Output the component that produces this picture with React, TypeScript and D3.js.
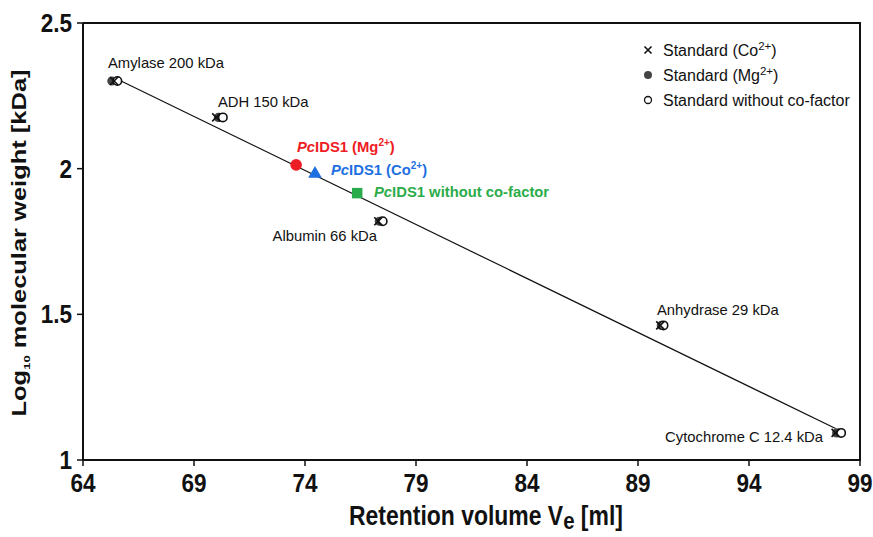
import React from "react";
import * as d3 from "d3";

const W = 873;
const H = 537;

const standards = ["Amylase 200 kDa", "ADH 150 kDa", "Albumin 66 kDa", "Anhydrase 29 kDa", "Cytochrome C 12.4 kDa"];
const logMW = [2.301, 2.176, 1.8195, 1.462, 1.093];
const veCo = [65.4, 70.0, 77.3, 90.0, 97.9];
const veMg = [65.3, 70.1, 77.35, 90.05, 97.95];
const veNone = [65.55, 70.3, 77.5, 90.15, 98.15];

const sampleNames = ["Mg", "Co", "none"];
const sampleVe = [73.6, 74.45, 76.35];
const sampleLog = [2.013, 1.982, 1.916];
const sampleColors = ["#ee1c24", "#1e6fe0", "#2bac4a"];

const fitX = [65.6, 97.9];
const fitY = [2.305, 1.108];

const xTicks = [64, 69, 74, 79, 84, 89, 94, 99];
const yTicks = [1, 1.5, 2, 2.5];

const legendLabels = ["Standard (Co", "Standard (Mg", "Standard without co-factor"];

export default function App() {
  const left = 83, right = 860, top = 23, bottom = 460;
  const x = d3.scaleLinear().domain([64, 99]).range([left, right]);
  const y = d3.scaleLinear().domain([1, 2.5]).range([bottom, top]);
  const line = d3.line<number>().x((d) => x(fitX[d])).y((d) => y(fitY[d]));

  const sans = "'Liberation Sans', Arial, Helvetica, sans-serif";
  const sx = 0.85;

  const cross = (cx: number, cy: number, s: number, key: string) => (
    <path key={key} d={`M${cx - s},${cy - s}L${cx + s},${cy + s}M${cx - s},${cy + s}L${cx + s},${cy - s}`} stroke="#111" strokeWidth={1.6} fill="none" />
  );

  const labelPos: [number, number, string][] = [
    [108, 68, "start"],
    [218, 107, "start"],
    [377, 241, "end"],
    [657, 315, "start"],
    [823, 442, "end"],
  ];

  const triangle = d3.symbol().type(d3.symbolTriangle).size(80)();
  const square = d3.symbol().type(d3.symbolSquare).size(110)();

  return (
    <svg width={W} height={H} style={{ position: "absolute", left: 0, top: 0, background: "#fff" }} fontFamily={sans}>
      {/* frame */}
      <path d={`M${left},${top}H${right}V${bottom}`} fill="none" stroke="#111" strokeWidth={2} />
      <line x1={left} x2={left} y1={top} y2={bottom + 1} stroke="#111" strokeWidth={2} />
      <line x1={left - 1} x2={right + 1} y1={bottom} y2={bottom} stroke="#111" strokeWidth={2} />
      {/* y ticks */}
      {yTicks.map((t) => (
        <g key={"y" + t}>
          <line x1={left - 6} x2={left} y1={y(t)} y2={y(t)} stroke="#111" strokeWidth={1.5} />
          <text transform={`translate(${left - 11},${y(t)}) scale(${sx},1)`} dy="0.34em" textAnchor="end" fontWeight="bold" fontSize={26.5} fill="#111">{t}</text>
        </g>
      ))}
      {/* x ticks */}
      {xTicks.map((t) => (
        <g key={"x" + t}>
          <line x1={x(t)} x2={x(t)} y1={bottom} y2={bottom + 6} stroke="#111" strokeWidth={1.5} />
          <text transform={`translate(${x(t)},${bottom + 32}) scale(${sx},1)`} textAnchor="middle" fontWeight="bold" fontSize={26.5} fill="#111">{t}</text>
        </g>
      ))}
      {/* axis titles */}
      <text transform={`translate(349,525) scale(0.85,1)`} textAnchor="start" fontWeight="bold" fontSize={27} fill="#111">
        Retention volume V<tspan dy={4} fontSize={24}>e</tspan><tspan dy={-4}> [ml]</tspan>
      </text>
      <text transform={`translate(26,243) rotate(-90) scale(1,0.76)`} textAnchor="middle" fontWeight="bold" fontSize={25.5} fill="#111">
        Log<tspan dy={5} fontSize={13}>10</tspan><tspan dy={-5}> molecular weight  [kDa]</tspan>
      </text>
      {/* fit line */}
      <path d={line([0, 1]) || ""} stroke="#111" strokeWidth={1.2} fill="none" />
      {/* standards */}
      {standards.map((s, i) => (
        <g key={s}>
          <circle cx={x(veMg[i])} cy={y(logMW[i])} r={4.6} fill="#444" />
          <circle cx={x(veNone[i])} cy={y(logMW[i])} r={4.2} fill="#fff" stroke="#111" strokeWidth={1.6} />
          {cross(x(veCo[i]), y(logMW[i]), 4, "c" + i)}
          <text x={labelPos[i][0]} y={labelPos[i][1]} textAnchor={labelPos[i][2] as any} fontSize={14.8} fill="#111">{s}</text>
        </g>
      ))}
      {/* samples */}
      <circle cx={x(sampleVe[0])} cy={y(sampleLog[0])} r={5.8} fill={sampleColors[0]} />
      <path d={triangle || ""} transform={`translate(${x(sampleVe[1])},${y(sampleLog[1])})`} fill={sampleColors[1]} />
      <path d={square || ""} transform={`translate(${x(sampleVe[2])},${y(sampleLog[2])})`} fill={sampleColors[2]} />
      <text x={297} y={152} fontSize={14.8} fontWeight="bold" fill={sampleColors[0]}>
        <tspan fontStyle="italic">Pc</tspan>IDS1 (Mg<tspan dy={-6} fontSize={10}>2+</tspan><tspan dy={6}>)</tspan>
      </text>
      <text x={331} y={175} fontSize={14.8} fontWeight="bold" fill={sampleColors[1]}>
        <tspan fontStyle="italic">Pc</tspan>IDS1 (Co<tspan dy={-6} fontSize={10}>2+</tspan><tspan dy={6}>)</tspan>
      </text>
      <text x={374} y={197} fontSize={14.8} fontWeight="bold" fill={sampleColors[2]}>
        <tspan fontStyle="italic">Pc</tspan>IDS1 without co-factor
      </text>
      {/* legend */}
      {legendLabels.map((l, i) => {
        const ly = 50 + i * 25;
        return (
          <g key={l}>
            {i === 0 && cross(648, ly, 3.5, "lc")}
            {i === 1 && <circle cx={648} cy={ly} r={4} fill="#444" />}
            {i === 2 && <circle cx={648} cy={ly} r={3.5} fill="#fff" stroke="#111" strokeWidth={1.3} />}
            <text x={663} y={ly + 5.5} fontSize={16} fill="#111">
              {l}
              {i < 2 && (
                <>
                  <tspan dy={-6} fontSize={11.5}>2+</tspan>
                  <tspan dy={6}>)</tspan>
                </>
              )}
            </text>
          </g>
        );
      })}
    </svg>
  );
}
